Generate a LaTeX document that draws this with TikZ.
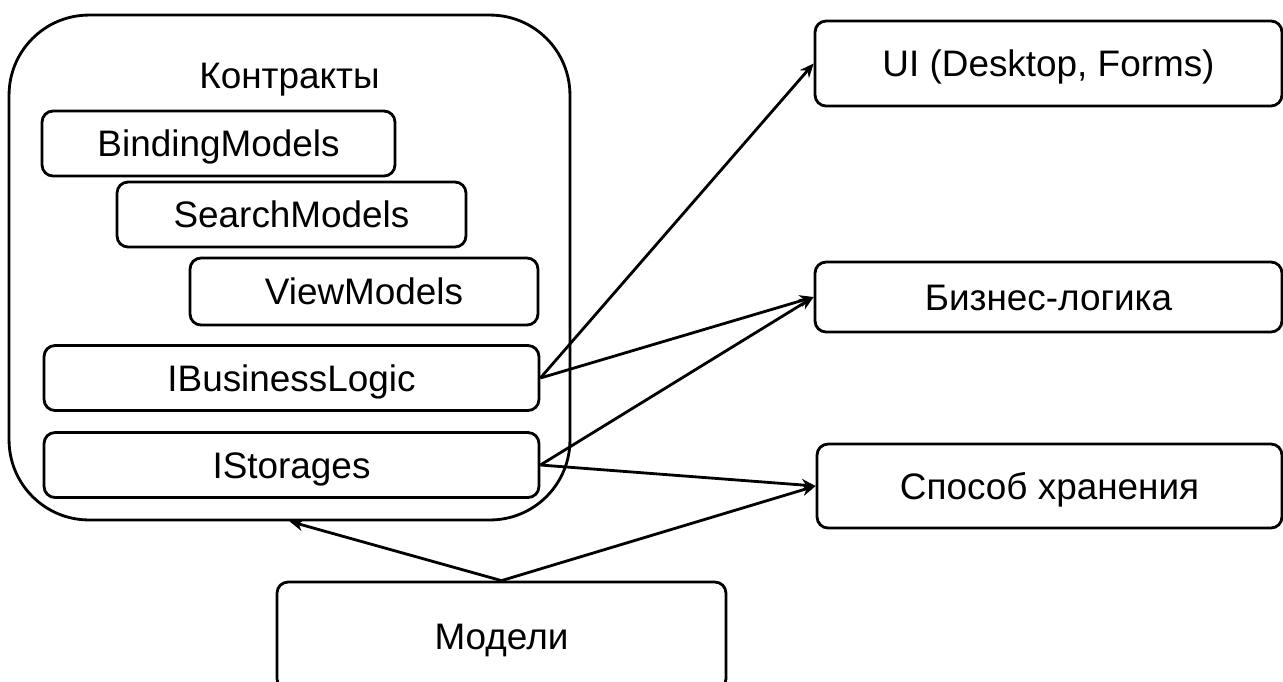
\documentclass[tikz,border=0pt]{standalone}
\usepackage{fontspec}
\setmainfont{Liberation Sans}
\usetikzlibrary{arrows.meta}
\begin{document}
\begin{tikzpicture}[x=0.02cm, y=-0.02cm,
  every node/.style={font=\fontsize{21}{25}\selectfont, text height=15.04pt, text depth=0pt},
  box/.style={draw, line width=1.6pt, rounded corners=0.22cm, inner sep=0pt},
  conn/.style={line width=1.6pt, -{Stealth[length=2.8mm, width=2.4mm]}}]
\useasboundingbox (0,0) rectangle (1283,681);
% container
\node[box, rounded corners=1.6cm, minimum width=11.22cm, minimum height=10.1cm] (contracts) at (289.5,267.5) {};
\node (ctitle) at (289.5,75.5) {Контракты};
\node[box, minimum width=7.06cm, minimum height=1.3cm] (bind) at (218.5,143.5) {BindingModels};
\node[box, minimum width=6.98cm, minimum height=1.3cm] (search) at (291.5,214.5) {SearchModels};
\node[box, minimum width=6.96cm, minimum height=1.34cm] (view) at (364,291.5) {ViewModels};
\node[box, minimum width=9.9cm, minimum height=1.3cm] (ibl) at (291.5,378) {IBusinessLogic};
\node[box, minimum width=9.9cm, minimum height=1.3cm] (ist) at (291.5,465) {IStorages};
% right column
\node[box, minimum width=9.34cm, minimum height=1.7cm] (ui) at (1048.5,63.5) {UI (Desktop, Forms)};
\node[box, minimum width=9.34cm, minimum height=1.4cm] (biz) at (1048.5,297) {Бизнес-логика};
\node[box, minimum width=9.3cm, minimum height=1.68cm] (store) at (1049.5,486) {Способ хранения};
% bottom
\node[box, minimum width=8.98cm, minimum height=2.16cm] (models) at (501.5,636) {Модели};
% connectors
\draw[conn] (ibl.east) -- (ui.west);
\draw[conn] (ibl.east) -- (biz.west);
\draw[conn] (ist.east) -- (biz.west);
\draw[conn] (ist.east) -- (store.west);
\draw[conn] (models.north) -- (contracts.south);
\draw[conn] (models.north) -- (store.west);
\end{tikzpicture}
\end{document}
